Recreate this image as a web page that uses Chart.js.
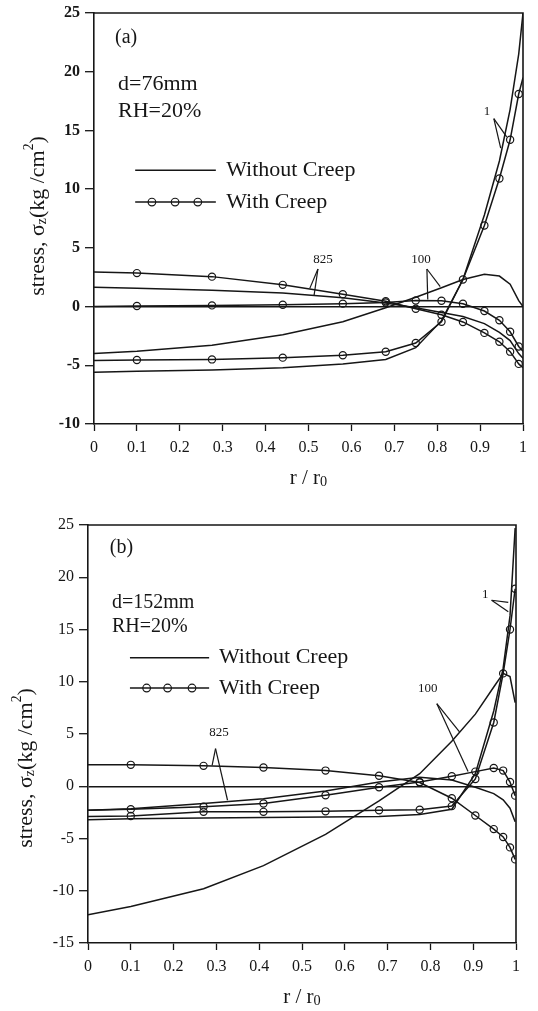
<!DOCTYPE html>
<html>
<head>
<meta charset="utf-8">
<script src="https://cdn.jsdelivr.net/npm/chart.js@4.4.1/dist/chart.umd.min.js"></script>
<style>
  html, body { margin: 0; padding: 0; background: #fff; }
  canvas { position: absolute; left: 0; }
  #chartA { top: 0; }
  #chartB { top: 505px; }
</style>
</head>
<body>
<canvas id="chartA" width="538" height="505"></canvas>
<canvas id="chartB" width="538" height="506"></canvas>
<script>
// axis ticks
const xTicks = [0, 0.1, 0.2, 0.3, 0.4, 0.5, 0.6, 0.7, 0.8, 0.9, 1];
const xTickLabels = ['0', '0.1', '0.2', '0.3', '0.4', '0.5', '0.6', '0.7', '0.8', '0.9', '1'];
const yTicksA = [-10, -5, 0, 5, 10, 15, 20, 25];
const yTicksB = [-15, -10, -5, 0, 5, 10, 15, 20, 25];

// (a) d=76mm, RH=20%  -- radial nodes r/r0 and stress values
const rA = [0, 0.1, 0.275, 0.44, 0.58, 0.68, 0.75, 0.81, 0.86, 0.91, 0.945, 0.97, 0.99, 1.0];
const a1Plain    = [-5.6, -5.5, -5.4, -5.2, -4.9, -4.5, -3.5, -1.2, 2.3, 7.8, 12.4, 16.8, 21.5, 25];
const a1Creep    = [-4.6, -4.55, -4.5, -4.35, -4.15, -3.85, -3.1, -1.3, 2.3, 6.9, 10.9, 14.2, 18.1, 19.5];
const a100Plain  = [-4.0, -3.8, -3.3, -2.4, -1.3, -0.1, 0.8, 1.6, 2.3, 2.75, 2.6, 1.9, 0.5, 0];
const a100Creep  = [0, 0.05, 0.1, 0.15, 0.25, 0.35, 0.52, 0.5, 0.24, -0.38, -1.17, -2.15, -3.4, -3.8];
const a825Plain  = [1.65, 1.55, 1.4, 1.15, 0.75, 0.3, -0.1, -0.5, -0.85, -1.45, -2.2, -2.9, -4.0, -4.4];
const a825Creep  = [2.95, 2.85, 2.55, 1.85, 1.05, 0.45, -0.18, -0.7, -1.31, -2.24, -3.0, -3.84, -4.88, -5.2];

// (b) d=152mm, RH=20%
const rB = [0, 0.1, 0.27, 0.41, 0.555, 0.68, 0.775, 0.85, 0.905, 0.948, 0.97, 0.986, 0.998];
const b1Plain    = [-3.2, -3.1, -3.05, -3.0, -2.95, -2.9, -2.7, -2.2, 1.2, 7.2, 11.3, 16.3, 24.7];
const b1Creep    = [-2.9, -2.85, -2.45, -2.45, -2.4, -2.3, -2.25, -1.9, 0.7, 6.1, 10.8, 15.0, 18.9];
const b100Plain  = [-12.3, -11.5, -9.8, -7.6, -4.6, -1.4, 1.2, 4.3, 6.9, 9.5, 10.8, 10.5, 8.0];
const b100Creep  = [-2.3, -2.2, -1.95, -1.65, -0.86, -0.1, 0.4, 0.95, 1.4, 1.75, 1.5, 0.4, -0.9];
const b825Plain  = [-2.3, -2.15, -1.65, -1.2, -0.45, 0.4, 0.85, 0.6, -0.1, -0.7, -1.3, -2.1, -3.4];
const b825Creep  = [2.05, 2.05, 1.95, 1.8, 1.5, 1.0, 0.35, -1.15, -2.8, -4.1, -4.85, -5.85, -7.0];

const ink = '#161616';
const serif = '"Liberation Serif", "Times New Roman", serif';

function curve(r, vals, creep) {
    return {
        data: r.map((v, i) => ({ x: v, y: vals[i] })),
        borderColor: ink,
        borderWidth: 1.5,
        tension: 0,
        fill: false,
        pointStyle: 'circle',
        pointRadius: creep ? (c => (c.raw && (c.raw.x === 0 || c.raw.x === 1)) ? 0 : 3.6) : 0,
        pointHoverRadius: 0,
        pointBorderColor: ink,
        pointBorderWidth: 1.2,
        pointBackgroundColor: 'rgba(255,255,255,0)'
    };
}

// text with small raised / lowered parts, centred on (0,0)
function richText(ctx, parts, size) {
    let total = 0;
    parts.forEach(p => {
        ctx.font = (size * p[2]) + 'px ' + serif;
        total += ctx.measureText(p[0]).width;
    });
    let x = -total / 2;
    ctx.textAlign = 'left';
    ctx.textBaseline = 'middle';
    parts.forEach(p => {
        ctx.font = (size * p[2]) + 'px ' + serif;
        ctx.fillText(p[0], x, p[1] * size);
        x += ctx.measureText(p[0]).width;
    });
}

function deco(cfg) {
    return {
        id: 'deco',
        afterDraw(chart) {
            const { ctx, chartArea: ca, scales: { x, y } } = chart;
            const px = v => x.getPixelForValue(v);
            const py = v => y.getPixelForValue(v);
            ctx.save();
            ctx.strokeStyle = ink;
            ctx.fillStyle = ink;

            // frame top + right
            ctx.lineWidth = 1.6;
            ctx.beginPath();
            ctx.moveTo(ca.left, ca.top);
            ctx.lineTo(ca.right, ca.top);
            ctx.lineTo(ca.right, ca.bottom);
            ctx.stroke();

            // panel tag and case info
            ctx.textAlign = 'left';
            ctx.textBaseline = 'middle';
            ctx.font = '20px ' + serif;
            ctx.fillText(cfg.panel, px(cfg.panelAt[0]), py(cfg.panelAt[1]));
            ctx.font = cfg.infoSize + 'px ' + serif;
            cfg.info.forEach((t, i) => ctx.fillText(t, px(cfg.infoAt[i][0]), py(cfg.infoAt[i][1])));

            // legend
            const L = cfg.legend;
            ctx.lineWidth = 1.5;
            [L.y1, L.y2].forEach(yy => {
                ctx.beginPath();
                ctx.moveTo(px(L.x0), py(yy));
                ctx.lineTo(px(L.x1), py(yy));
                ctx.stroke();
            });
            ctx.lineWidth = 1.2;
            L.dots.forEach(d => {
                ctx.beginPath();
                ctx.arc(px(d), py(L.y2), 3.8, 0, Math.PI * 2);
                ctx.stroke();
            });
            ctx.font = '22px ' + serif;
            ctx.fillText('Without Creep', px(L.tx), py(L.y1));
            ctx.fillText('With Creep', px(L.tx), py(L.y2));

            // curve labels with pointer lines
            cfg.notes.forEach(n => {
                ctx.font = '13px ' + serif;
                ctx.textAlign = 'center';
                ctx.fillText(n.text, px(n.at[0]), py(n.at[1]));
                ctx.lineWidth = 1.2;
                n.tips.forEach(t => {
                    ctx.beginPath();
                    ctx.moveTo(px(n.apex[0]), py(n.apex[1]));
                    ctx.lineTo(px(t[0]), py(t[1]));
                    ctx.stroke();
                });
            });

            // axis titles
            ctx.save();
            ctx.translate(cfg.yTitle[0], cfg.yTitle[1]);
            ctx.rotate(-Math.PI / 2);
            richText(ctx, [['stress, σ', 0, 1], ['z', 0.22, 0.62], ['(kg /cm', 0, 1], ['2', -0.38, 0.62], [')', 0, 1]], 22);
            ctx.restore();
            ctx.save();
            ctx.translate((ca.left + ca.right) / 2, cfg.xTitleY);
            richText(ctx, [['r / r', 0, 1], ['0', 0.2, 0.68]], 21);
            ctx.restore();

            ctx.restore();
        }
    };
}

function makeChart(id, r, sets, yTicks, box, yBold, cfg) {
    const canvas = document.getElementById(id);
    const H = canvas.height;
    const datasets = [
        curve(r, sets[0], false), curve(r, sets[1], true),
        curve(r, sets[2], false), curve(r, sets[3], true),
        curve(r, sets[4], false), curve(r, sets[5], true)
    ];
    return new Chart(canvas.getContext('2d'), {
        type: 'line',
        data: { datasets },
        options: {
            responsive: false,
            animation: false,
            devicePixelRatio: 1,
            layout: { padding: { left: 0, right: 538 - box.right, top: box.top, bottom: H - box.bottom - 40 } },
            plugins: { legend: { display: false }, tooltip: { enabled: false } },
            events: [],
            scales: {
                x: {
                    type: 'linear',
                    min: 0, max: 1,
                    afterBuildTicks: s => { s.ticks = xTicks.map(v => ({ value: v })); },
                    afterFit: s => { s.height = 40; },
                    ticks: {
                        callback: (v, i) => xTickLabels[i],
                        color: ink,
                        padding: 9,
                        maxRotation: 0,
                        autoSkip: false,
                        font: { family: serif, size: 16, lineHeight: 1 }
                    },
                    grid: { drawOnChartArea: false, tickLength: 7, tickColor: ink, tickWidth: 1.3 },
                    border: { color: ink, width: 1.6 }
                },
                y: {
                    type: 'linear',
                    min: yTicks[0], max: yTicks[yTicks.length - 1],
                    afterBuildTicks: s => { s.ticks = yTicks.map(v => ({ value: v })); },
                    afterFit: s => { s.width = box.left; },
                    ticks: {
                        color: ink,
                        padding: 5,
                        autoSkip: false,
                        font: { family: serif, size: 16, lineHeight: 1, weight: yBold ? 'bold' : 'normal' }
                    },
                    grid: {
                        drawOnChartArea: true,
                        color: c => (c.tick && c.tick.value === 0) ? ink : 'rgba(0,0,0,0)',
                        lineWidth: 1.4,
                        tickLength: 9,
                        tickColor: ink,
                        tickWidth: 1.3
                    },
                    border: { color: ink, width: 1.6 }
                }
            }
        },
        plugins: [deco(cfg)]
    });
}

makeChart('chartA', rA, [a1Plain, a1Creep, a100Plain, a100Creep, a825Plain, a825Creep], yTicksA,
    { left: 94, right: 523, top: 8, bottom: 424 }, true, {
        panel: '(a)', panelAt: [0.049, 22.9],
        info: ['d=76mm', 'RH=20%'], infoAt: [[0.056, 18.95], [0.056, 16.6]], infoSize: 22,
        legend: { x0: 0.096, x1: 0.284, y1: 11.6, y2: 8.9, tx: 0.308, dots: [0.135, 0.189, 0.242] },
        notes: [
            { text: '825', at: [0.534, 4.0], apex: [0.522, 3.2], tips: [[0.503, 1.55], [0.513, 0.95]] },
            { text: '100', at: [0.762, 4.0], apex: [0.776, 3.2], tips: [[0.807, 1.7], [0.778, 0.6]] },
            { text: '1', at: [0.916, 16.6], apex: [0.932, 16.0], tips: [[0.962, 14.45], [0.948, 13.5]] }
        ],
        yTitle: [38, 216], xTitleY: 478
    });

makeChart('chartB', rB, [b1Plain, b1Creep, b100Plain, b100Creep, b825Plain, b825Creep], yTicksB,
    { left: 88, right: 516, top: 20, bottom: 438 }, false, {
        panel: '(b)', panelAt: [0.051, 22.8],
        info: ['d=152mm', 'RH=20%'], infoAt: [[0.056, 17.55], [0.056, 15.3]], infoSize: 20,
        legend: { x0: 0.098, x1: 0.283, y1: 12.3, y2: 9.4, tx: 0.306, dots: [0.137, 0.186, 0.243] },
        notes: [
            { text: '825', at: [0.306, 5.1], apex: [0.298, 3.6], tips: [[0.29, 2.0], [0.326, -1.34]] },
            { text: '100', at: [0.794, 9.36], apex: [0.815, 7.9], tips: [[0.868, 5.2], [0.888, 1.4]] },
            { text: '1', at: [0.928, 18.3], apex: [0.943, 17.8], tips: [[0.982, 17.6], [0.982, 16.7]] }
        ],
        yTitle: [26, 263], xTitleY: 492
    });
</script>
</body>
</html>
